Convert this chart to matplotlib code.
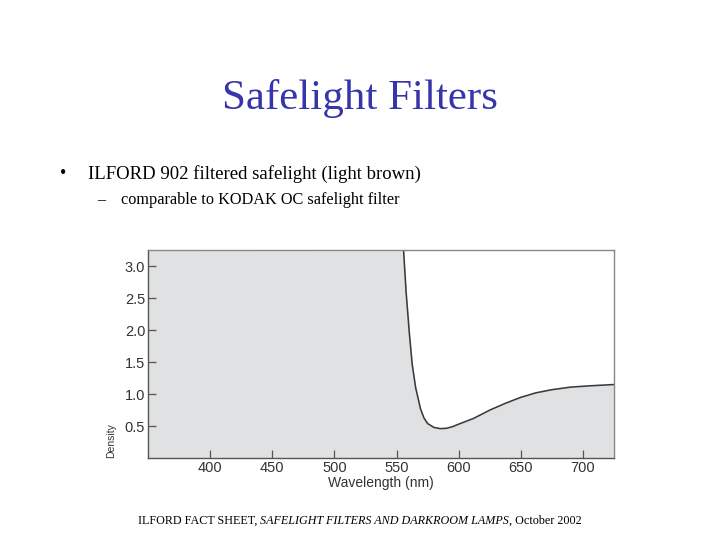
import matplotlib
matplotlib.use("Agg")
import matplotlib.pyplot as plt

# density curve
wavelength = [555.7, 557.7, 560.3, 562.6, 565.4, 569.3, 572.0, 575.0, 580.0,
              585.0, 590.0, 595.0, 600.0, 612.0, 625.0, 638.0, 650.0, 662.0,
              675.0, 690.0, 705.0, 724.5]
density = [3.245, 2.60, 1.96, 1.47, 1.10, 0.77, 0.63, 0.54, 0.48,
           0.46, 0.465, 0.49, 0.53, 0.62, 0.75, 0.86, 0.95, 1.02,
           1.07, 1.11, 1.13, 1.15]

x_ticks = [400, 450, 500, 550, 600, 650, 700]
y_ticks = [0.5, 1.0, 1.5, 2.0, 2.5, 3.0]
x_range = (350, 725)
y_range = (0, 3.25)

title = "Safelight Filters"
bullet = "ILFORD 902 filtered safelight (light brown)"
sub_bullet = "comparable to KODAK OC safelight filter"
footer_parts = [("ILFORD FACT SHEET, ", "normal"),
                ("SAFELIGHT FILTERS AND DARKROOM LAMPS", "italic"),
                (", October 2002", "normal")]

serif = "Liberation Serif"
sans = "Liberation Sans"

fig = plt.figure(figsize=(7.2, 5.4), dpi=100)
fig.patch.set_facecolor("white")

# slide texts
fig.text(0.5, 1 - 98 / 540, title, ha="center", va="center",
         family=serif, fontsize=31, color="#3636aa")
fig.text(63 / 720, 1 - 174 / 540, "\u2022", ha="center", va="center",
         family=serif, fontsize=13, color="black")
fig.text(88 / 720, 1 - 174 / 540, bullet, ha="left", va="center",
         family=serif, fontsize=13.5, color="black")
fig.text(101 / 720, 1 - 200 / 540, "\u2013", ha="center", va="center",
         family=serif, fontsize=11.5, color="black")
fig.text(121 / 720, 1 - 200 / 540, sub_bullet, ha="left", va="center",
         family=serif, fontsize=11.7, color="black")

# chart
ax = fig.add_axes([148 / 720, 1 - 458 / 540, 466 / 720, 207.5 / 540])
fill_x = [x_range[0]] + wavelength
fill_y = [y_range[1]] + density
ax.fill_between(fill_x, 0, fill_y, color="#e0e1e3", lw=0)
ax.plot(wavelength, density, color="#3a3a3a", lw=1.15)
ax.set_xlim(*x_range)
ax.set_ylim(*y_range)
ax.set_xticks(x_ticks)
ax.set_yticks(y_ticks)
ax.set_yticklabels([f"{v:.1f}" for v in y_ticks])
ax.tick_params(direction="in", length=6, width=0.9, color="#555555",
               labelsize=10.5, labelcolor="#333333", pad=2)
for lab in ax.get_xticklabels() + ax.get_yticklabels():
    lab.set_family(sans)
for name, sp in ax.spines.items():
    sp.set_color("#555555" if name in ("left", "bottom") else "#888888")
    sp.set_linewidth(1.0)
ax.set_xlabel("Wavelength (nm)", family=sans, fontsize=10, color="#333333",
              labelpad=1)
ax.set_ylabel("Density", family=sans, fontsize=7.5, color="#333333",
              loc="bottom", labelpad=6)

# footer with italic middle part, laid out piece by piece
fig.canvas.draw()
renderer = fig.canvas.get_renderer()
pieces = []
for txt, style in footer_parts:
    t = fig.text(0, 1 - 521 / 540, txt, ha="left", va="center",
                 family=serif, style=style, fontsize=8.7, color="black")
    pieces.append(t)
widths = [t.get_window_extent(renderer).width for t in pieces]
x0 = 360 - sum(widths) / 2
for t, w in zip(pieces, widths):
    t.set_x(x0 / 720)
    x0 += w

fig.savefig("out.png", dpi=100, facecolor="white")
